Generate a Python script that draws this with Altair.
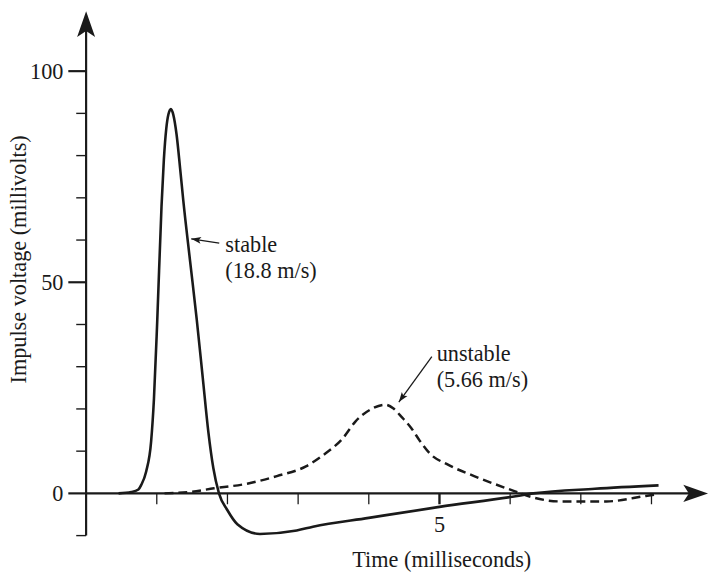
import math
import altair as alt
import pandas as pd

# ---------------- data ----------------
stable_t = [0.46, 0.64, 0.74, 0.78, 0.85, 0.92, 0.96, 1.007, 1.067, 1.10, 1.135, 1.165,
            1.20, 1.235, 1.28, 1.33, 1.376, 1.47, 1.566, 1.65, 1.73, 1.80, 1.88, 2.0,
            2.14, 2.46, 2.98, 3.21, 4.0, 5.0, 6.03, 6.33, 7.2, 8.10]
stable_v = [0.0, 0.3, 0.9, 2.0, 5.2, 12.3, 22.4, 41.1, 68.0, 79.0, 86.5, 89.8,
            91.0, 89.6, 85.0, 77.0, 69.2, 55.2, 41.1, 27.5, 14.5, 6.0, 0.0, -4.0,
            -7.3, -9.6, -8.8, -7.9, -5.8, -3.2, -0.8, 0.0, 1.1, 1.9]

unstable_t = [1.11, 1.5, 1.81, 2.28, 2.70, 3.11, 3.39, 3.63, 3.81, 4.05, 4.23, 4.35,
              4.47, 4.6, 4.72, 4.86, 5.12, 5.49, 6.05, 6.33, 6.70, 7.36, 7.92, 8.08]
unstable_v = [0.0, 0.4, 1.2, 2.3, 4.1, 6.4, 9.5, 13.0, 17.0, 20.1, 21.0, 20.1,
              18.0, 15.5, 12.5, 9.5, 6.8, 4.1, 0.6, -1.0, -1.9, -1.9, -0.6, -0.2]

y_minor_ticks = [-10, 10, 20, 30, 40, 60, 70, 80, 90]
y_major_ticks = [0, 50, 100]
y_tick_labels = ["0", "50", "100"]
x_minor_ticks = [1, 2, 3, 4, 6, 7, 8]
x_major_ticks = [5]
x_tick_labels = ["5"]

x_title = "Time (milliseconds)"
y_title = "Impulse voltage (millivolts)"

ann_line1 = ["stable", "unstable"]
ann_line2 = ["(18.8 m/s)", "(5.66 m/s)"]
ann_text_t = [1.97, 4.96]
ann_text_v1 = [57.1, 31.4]
ann_text_v2 = [51.0, 25.3]
ann_tail_t = [1.884, 4.892]
ann_tail_v = [59.25, 32.4]
ann_tip_t = [1.487, 4.425]
ann_tip_v = [60.28, 21.64]

# ---------------- layout ----------------
X_DOMAIN = [0, 8.8]
Y_DOMAIN = [-16, 114.2]
W, H = 629, 556
FONT = "Liberation Serif"
FS = 22.5
INK = "#1a1a1a"

sx = W / (X_DOMAIN[1] - X_DOMAIN[0])
sy = H / (Y_DOMAIN[1] - Y_DOMAIN[0])

xs = alt.Scale(domain=X_DOMAIN, nice=False, zero=False)
ys = alt.Scale(domain=Y_DOMAIN, nice=False, zero=False)


def X(f):
    return alt.X(f, type="quantitative", scale=xs, axis=None)


def Y(f):
    return alt.Y(f, type="quantitative", scale=ys, axis=None)


ARROW = "M0,0 L0.7,2 L0,1.55 L-0.7,2 Z"

stable_df = pd.DataFrame({"t": stable_t, "v": stable_v})
unstable_df = pd.DataFrame({"t": unstable_t, "v": unstable_v})

stable = alt.Chart(stable_df).mark_line(
    color=INK, strokeWidth=2.6, interpolate="monotone"
).encode(x=X("t"), y=Y("v"))

unstable = alt.Chart(unstable_df).mark_line(
    color=INK, strokeWidth=2.5, strokeDash=[9, 5], interpolate="monotone"
).encode(x=X("t"), y=Y("v"))

# axis lines
axis_df = pd.DataFrame({"t0": [0, 0], "t1": [0, X_DOMAIN[1] - 0.2],
                        "v0": [-10, 0], "v1": [Y_DOMAIN[1] - 1.0, 0]})
axes = alt.Chart(axis_df).mark_rule(color=INK, strokeWidth=2.2).encode(
    x=X("t0"), x2=alt.X2("t1"), y=Y("v0"), y2=alt.Y2("v1"))

# main arrowheads
arr_df = pd.DataFrame({"t": [0, X_DOMAIN[1]], "v": [Y_DOMAIN[1], 0],
                       "ang": [0, 90], "sz": [676, 625]})
arrows = alt.Chart(arr_df).mark_point(
    shape=ARROW, filled=True, color=INK, opacity=1, strokeWidth=0
).encode(x=X("t"), y=Y("v"), angle=alt.Angle("ang:Q", scale=None),
         size=alt.Size("sz:Q", scale=None))

# y ticks
ymin_df = pd.DataFrame({"v": y_minor_ticks})
ymin = alt.Chart(ymin_df).mark_rule(color=INK, strokeWidth=1.4).encode(
    x=alt.value(-10), x2=alt.value(0), y=Y("v"))
ymaj_df = pd.DataFrame({"v": y_major_ticks, "lab": y_tick_labels})
ymaj = alt.Chart(ymaj_df).mark_rule(color=INK, strokeWidth=2.2).encode(
    x=alt.value(-18), x2=alt.value(0), y=Y("v"))
ylab = alt.Chart(ymaj_df).mark_text(
    align="right", baseline="alphabetic", dy=7.5, font=FONT, fontSize=FS, color=INK
).encode(x=alt.value(-23), y=Y("v"), text="lab:N")

# x ticks
xmin_df = pd.DataFrame({"t": x_minor_ticks, "v": [0] * len(x_minor_ticks)})
xmin = alt.Chart(xmin_df).mark_tick(
    color=INK, thickness=1.3, size=11, orient="vertical", yOffset=5.5, opacity=1
).encode(x=X("t"), y=Y("v"))
xmaj_df = pd.DataFrame({"t": x_major_ticks, "v": [0] * len(x_major_ticks), "lab": x_tick_labels})
xmaj = alt.Chart(xmaj_df).mark_tick(
    color=INK, thickness=2.4, size=11, orient="vertical", yOffset=5.5, opacity=1
).encode(x=X("t"), y=Y("v"))
xlab = alt.Chart(xmaj_df).mark_text(
    align="center", baseline="alphabetic", dy=39, font=FONT, fontSize=FS, color=INK
).encode(x=X("t"), y=Y("v"), text="lab:N")

# axis titles
xt = alt.Chart(pd.DataFrame({"s": [x_title]})).mark_text(
    align="center", baseline="alphabetic", font=FONT, fontSize=FS, color=INK
).encode(x=alt.value(359.7), y=alt.value(562), text="s:N")
yt = alt.Chart(pd.DataFrame({"s": [y_title]})).mark_text(
    align="center", baseline="alphabetic", angle=270, font=FONT, fontSize=FS, color=INK
).encode(x=alt.value(-61), y=alt.value(251), text="s:N")

# annotations
angles = []
for a, b, c, d in zip(ann_tail_t, ann_tail_v, ann_tip_t, ann_tip_v):
    dx = (c - a) * sx
    dy = -(d - b) * sy
    angles.append(math.degrees(math.atan2(dx, -dy)) % 360)

ann_df = pd.DataFrame({
    "l1": ann_line1, "l2": ann_line2,
    "tt": ann_text_t, "tv1": ann_text_v1, "tv2": ann_text_v2,
    "a_t": ann_tail_t, "a_v": ann_tail_v, "b_t": ann_tip_t, "b_v": ann_tip_v,
    "ang": angles,
})
ann_lines = alt.Chart(ann_df).mark_rule(color=INK, strokeWidth=1.3).encode(
    x=X("a_t"), x2=alt.X2("b_t"), y=Y("a_v"), y2=alt.Y2("b_v"))
ann_heads = alt.Chart(ann_df).mark_point(
    shape=ARROW, filled=True, color=INK, opacity=1, strokeWidth=0, size=100
).encode(x=X("b_t"), y=Y("b_v"), angle=alt.Angle("ang:Q", scale=None))
ann_t1 = alt.Chart(ann_df).mark_text(
    align="left", baseline="alphabetic", font=FONT, fontSize=FS, color=INK
).encode(x=X("tt"), y=Y("tv1"), text="l1:N")
ann_t2 = alt.Chart(ann_df).mark_text(
    align="left", baseline="alphabetic", font=FONT, fontSize=FS, color=INK
).encode(x=X("tt"), y=Y("tv2"), text="l2:N")

chart = alt.layer(
    axes, ymin, ymaj, ylab, xmin, xmaj, xlab, xt, yt,
    unstable, stable, arrows, ann_lines, ann_heads, ann_t1, ann_t2
).properties(
    width=W, height=H,
    autosize=alt.AutoSizeParams(type="none"),
    padding={"left": 79, "top": 0, "right": 2, "bottom": 12},
).configure(background="white", view=alt.ViewConfig(strokeWidth=0, stroke=None))

chart.save("out.html", embed_options={"renderer": "svg", "actions": False})
